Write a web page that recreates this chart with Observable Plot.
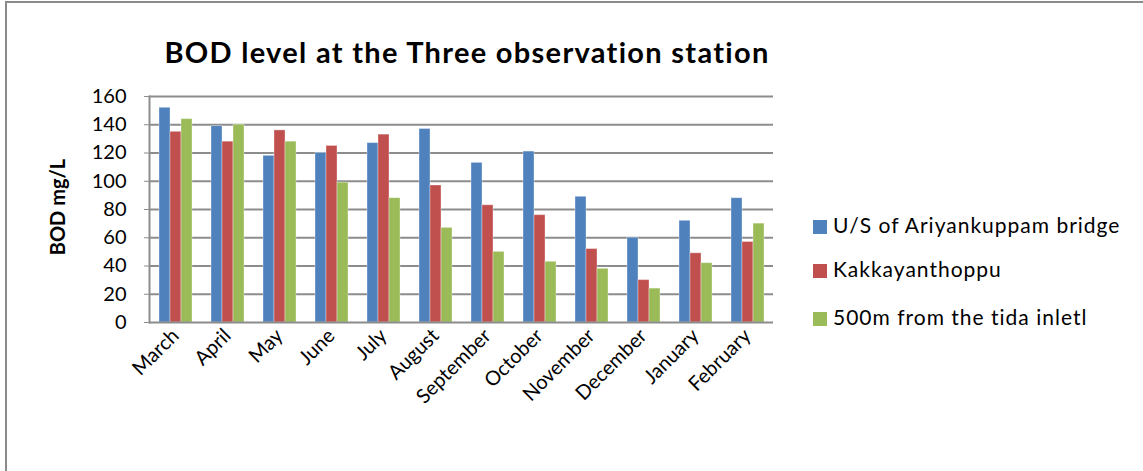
<!DOCTYPE html>
<html>
<head>
<meta charset="utf-8">
<script src="https://cdn.jsdelivr.net/npm/d3@7"></script>
<script src="https://cdn.jsdelivr.net/npm/@observablehq/plot@0.6"></script>
<style>
  html, body { margin: 0; padding: 0; background: #fff; }
  #wrap { position: relative; width: 1143px; height: 471px; overflow: hidden; font-family: Lato, "Open Sans", sans-serif; color: #000; }
  #border { position: absolute; left: 5px; top: 1px; width: 1200px; height: 520px; border-top: 2px solid #8a8a8a; border-left: 2px solid #8a8a8a; }
  #title { position: absolute; left: 0; width: 934px; text-align: center; top: 37px; font-size: 29px; line-height: 29px; letter-spacing: 1.3px; font-weight: bold; white-space: nowrap; }
  #ylabel { position: absolute; left: 57px; top: 207px; transform: translate(-50%, -50%) rotate(-90deg); font-size: 20px; line-height: 20px; font-weight: bold; white-space: nowrap; }
  #chart { position: absolute; left: 0; top: 0; }
  #legend { position: absolute; left: 813px; top: 0; }
  .item { position: absolute; left: 0; white-space: nowrap; font-size: 21px; line-height: 21px; letter-spacing: 1px; }
  .sw { display: inline-block; width: 14px; height: 14px; margin-right: 6px; vertical-align: -1px; }
</style>
</head>
<body>
<div id="wrap">
  <div id="border"></div>
  <div id="title">BOD level at the Three observation station</div>
  <div id="ylabel">BOD mg/L</div>
  <div id="chart"></div>
  <div id="legend"></div>
</div>
<script>
const months = ["March","April","May","June","July","August","September","October","November","December","January","February"];
const seriesNames = ["U/S of Ariyankuppam bridge","Kakkayanthoppu","500m from the tida inletl"];
const usAriyankuppam = [152,139,118,120,127,137,113,121,89,60,72,88];
const kakkayanthoppu = [135,128,136,125,133,97,83,76,52,30,49,57];
const tidalInlet = [144,140,128,99,88,67,50,43,38,24,42,70];
const yTicks = [0,20,40,60,80,100,120,140,160];
const colors = ["#4F81BD","#C0504D","#9BBB59"];

const seriesValues = [usAriyankuppam, kakkayanthoppu, tidalInlet];
const data = [];
months.forEach((m, i) => {
  seriesNames.forEach((s, j) => data.push({month: m, series: s, value: seriesValues[j][i]}));
});

const plot = Plot.plot({
  width: 800,
  height: 471,
  marginLeft: 148,
  marginRight: 27,
  marginTop: 96,
  marginBottom: 149,
  style: {fontFamily: "Lato, 'Open Sans', sans-serif", fontSize: "20px", color: "#000", background: "transparent", overflow: "visible"},
  fx: {domain: months, padding: 0, label: null},
  x: {domain: seriesNames, paddingInner: 0, paddingOuter: 0.8, axis: null},
  y: {domain: [0, 160], ticks: yTicks, label: null},
  color: {domain: seriesNames, range: colors},
  marks: [
    Plot.gridY(yTicks.filter(d => d > 0), {stroke: "#8c8c8c", strokeOpacity: 1, strokeWidth: 2}),
    Plot.barY(data, {fx: "month", x: "series", y: "value", fill: "series", stroke: "#ffffff", strokeOpacity: 0.35, strokeWidth: 1}),
    Plot.ruleY([0], {stroke: "#8c8c8c", strokeWidth: 2}),
    Plot.frame({anchor: "left", facetAnchor: "left", stroke: "#8c8c8c", strokeWidth: 2}),
    Plot.axisY(yTicks, {tickSize: 5, tickPadding: 18, stroke: "#8c8c8c", fill: "#000", fontSize: 20, label: null}),
    Plot.axisFx({anchor: "bottom", tickRotate: -45, tickSize: 0, tickPadding: 10, fontSize: 20, fill: "#000", label: null})
  ]
});
document.getElementById("chart").appendChild(plot);

const legend = document.getElementById("legend");
const rowY = [225, 269, 317];
seriesNames.forEach((s, i) => {
  const div = document.createElement("div");
  div.className = "item";
  div.style.top = (rowY[i] - 11) + "px";
  div.innerHTML = `<span class="sw" style="background:${colors[i]}"></span>${s}`;
  legend.appendChild(div);
});
</script>
</body>
</html>
